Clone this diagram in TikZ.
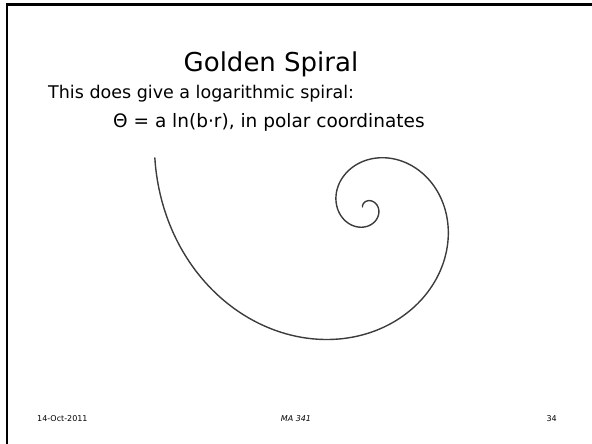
\documentclass[tikz,border=0pt]{standalone}
\usepackage{fontspec}
\setmainfont{DejaVu Sans}
\usepackage{tikz}
\usepackage{xcolor}
\usetikzlibrary{calc, positioning}

\definecolor{spiralgray}{HTML}{3C3C3C}

\begin{document}
\begin{tikzpicture}[x=1pt, y=-1pt,
  titletext/.style={anchor=base, font=\fontsize{26}{30}\selectfont},
  bodytext/.style={anchor=base west, inner sep=0pt, font=\fontsize{17.5}{21}\selectfont},
  foottext/.style={inner sep=0pt, font=\fontsize{8}{9.5}\selectfont}]
  \useasboundingbox (0,0) rectangle (592,444);
  % slide frame (top and left edges)
  \draw[line width=2.3pt] (7.3,444) -- (7.3,4.5) -- (592,4.5);
  % title and text
  \node[titletext] (title) at (271,71) {Golden Spiral};
  \node[bodytext] (intro) at (48,99) {This does give a logarithmic spiral:};
  \node[bodytext, font=\fontsize{18.5}{22}\selectfont] (formula) at (113,127) {Θ = a ln(b·r), in polar coordinates};
  % golden spiral around (367,208), r shrinks by phi every quarter turn
  \draw[spiralgray, line width=1.4pt, line cap=round]
    plot[domain=166.7:886.7, samples=500, smooth, variable=\t]
    ({367+218*exp(-0.0053468*(\t-166.7))*cos(\t)},{208-218*exp(-0.0053468*(\t-166.7))*sin(\t)});
  % footer
  \node[foottext, anchor=west] (date) at (37,419) {14-Oct-2011};
  \node[foottext] (course) at (296,419) {\itshape MA 341};
  \node[foottext, anchor=east] (page) at (557,419) {34};
\end{tikzpicture}
\end{document}
